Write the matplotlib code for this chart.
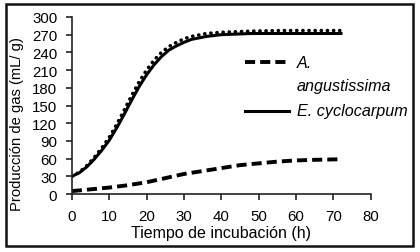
import matplotlib.pyplot as plt
from matplotlib.lines import Line2D
from matplotlib.patches import Rectangle

plt.rcParams['font.family'] = ['Liberation Sans', 'DejaVu Sans']

# Tiempo de incubación (h)
tiempo = [0, 2, 4, 6, 8, 10, 12, 14, 16, 18, 20, 22, 24, 26, 28, 30,
          32, 36, 40, 48, 56, 64, 72]
# E. cyclocarpum (línea continua)
e_cyclo = [30, 36, 46, 59, 74, 91, 112, 135, 159, 182, 202, 219, 233, 244,
           251, 257, 262, 267, 270, 272, 272, 272, 272]
# curva punteada (sin leyenda)
punteada = [30, 37, 48, 62, 78, 96, 118, 142, 167, 190, 210, 227, 240, 250,
            257, 263, 267, 272, 274, 276, 277, 277, 277]
# A. angustissima (línea discontinua)
t_ang = [0, 5, 10, 15, 20, 25, 30, 35, 40, 45, 50, 55, 60, 65, 72]
a_ang = [5, 8, 11, 15, 20, 27, 34, 39, 44, 49, 52, 55, 57, 58, 59]

fig = plt.figure(figsize=(4.2, 2.53), dpi=100)
ax = fig.add_axes([0.171, 0.229, 0.712, 0.70])

ax.plot(tiempo, punteada, color='black', lw=2.6, linestyle=(0, (0.05, 1.65)),
        dash_capstyle='round')
ax.plot(t_ang, a_ang, color='black', lw=2.8, linestyle=(0, (2.6, 1.3)),
        label='A.\nangustissima')
ax.plot(tiempo, e_cyclo, color='black', lw=2.2, label='E. cyclocarpum')

ax.set_xlim(0, 80)
ax.set_ylim(0, 300)
ax.set_xticks(range(0, 81, 10))
ax.set_yticks(range(0, 301, 30))
ax.spines['top'].set_visible(False)
ax.spines['right'].set_visible(False)
for s in ('left', 'bottom'):
    ax.spines[s].set_color('#222222')
    ax.spines[s].set_linewidth(1.2)
ax.tick_params(direction='out', length=4, width=1.2, labelsize=10.8,
               pad=6.5, color='#222222')
ax.set_xlabel('Tiempo de incubación (h)', fontsize=11.5, labelpad=2)
ax.set_ylabel('Producción de gas (mL/ g)', fontsize=10.6)
ax.yaxis.set_label_coords(-0.16, 0.40)

# Leyenda
fs = 11.6
ax.add_line(Line2D([0.58, 0.725], [0.745, 0.745], transform=ax.transAxes,
                   color='black', lw=2.8, linestyle=(0, (2.6, 1.3))))
ax.text(0.752, 0.745, 'A.', transform=ax.transAxes, fontsize=fs,
        style='italic', va='center')
ax.text(0.752, 0.615, 'angustissima', transform=ax.transAxes, fontsize=fs,
        style='italic', va='center')
ax.add_line(Line2D([0.58, 0.725], [0.47, 0.47], transform=ax.transAxes,
                   color='black', lw=2.2))
ax.text(0.752, 0.47, 'E. cyclocarpum', transform=ax.transAxes,
        fontsize=fs, style='italic', va='center', clip_on=False)

# Marco exterior
fig.patches.append(Rectangle((0.014, 0.025), 0.97, 0.955,
                             transform=fig.transFigure, fill=False,
                             edgecolor='#111111', lw=1.8))

fig.savefig('out.png', dpi=100)
